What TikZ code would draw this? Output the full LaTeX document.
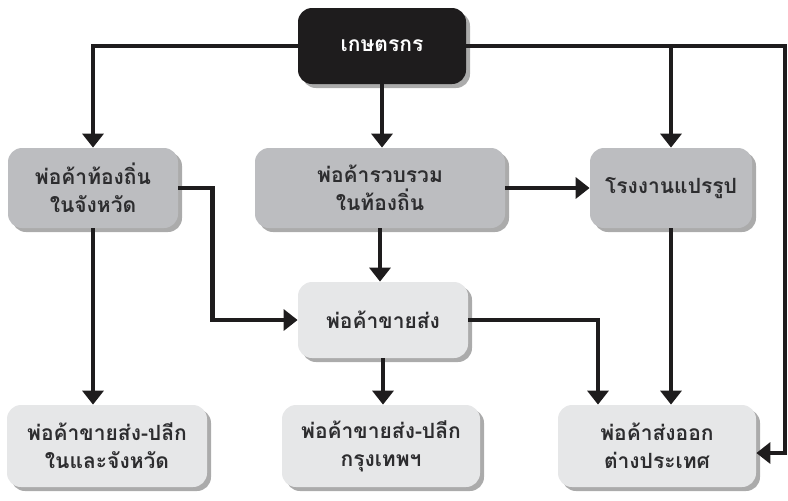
\documentclass[tikz,border=0pt]{standalone}
\usepackage{fontspec}
\newfontfamily\thaifont[Script=Thai]{Loma}
\usepackage{tikz}
\usetikzlibrary{
  arrows.meta,
  positioning,
  shadows,
  calc
}
\usepackage{xcolor}
\definecolor{inkdark}{RGB}{30,28,29}
\definecolor{boxgrey}{RGB}{188,189,192}
\definecolor{boxlight}{RGB}{230,231,232}
\definecolor{textdark}{RGB}{45,45,47}

\tikzset{
  chainbox/.style={
    rectangle, rounded corners=7pt, align=center,
    font=\thaifont\bfseries\fontsize{10.5}{14}\selectfont, text=textdark,
    drop shadow={shadow xshift=2pt, shadow yshift=-2pt, fill=black!55, opacity=.6}
  },
  flow/.style={line width=2.4pt, color=inkdark,
    -{Triangle[width=10.5pt,length=7pt]}}
}

\begin{document}
\begin{tikzpicture}[x=0.5pt, y=-0.5pt]
  \useasboundingbox (0,0) rectangle (788,500);

  % Top: farmer
  \node[chainbox, fill=inkdark, text=white,
    minimum width=84pt, minimum height=38pt] (farmer) at (382,46) {เกษตรกร};

  % Second row
  \node[chainbox, fill=boxgrey, minimum width=85pt, minimum height=40pt]
    (local) at (93,188) {พ่อค้าท้องถิ่น\\ในจังหวัด};
  \node[chainbox, fill=boxgrey, minimum width=125pt, minimum height=40pt]
    (collector) at (380,188) {พ่อค้ารวบรวม\\ในท้องถิ่น};
  \node[chainbox, fill=boxgrey, minimum width=81pt, minimum height=40pt]
    (factory) at (671,188) {โรงงานแปรรูป};

  % Wholesaler
  \node[chainbox, fill=boxlight, minimum width=85pt, minimum height=38pt]
    (wholesale) at (383,320) {พ่อค้าขายส่ง};

  % Bottom row
  \node[chainbox, fill=boxlight, minimum width=100pt, minimum height=41pt]
    (retailprov) at (107,446) {พ่อค้าขายส่ง-ปลีก\\ในและจังหวัด};
  \node[chainbox, fill=boxlight, minimum width=99pt, minimum height=41pt]
    (retailbkk) at (381,446) {พ่อค้าขายส่ง-ปลีก\\กรุงเทพฯ};
  \node[chainbox, fill=boxlight, minimum width=99pt, minimum height=41pt]
    (exporter) at (657,446) {พ่อค้าส่งออก\\ต่างประเทศ};

  \coordinate (rim) at (785,46);

  % Connectors
  \draw[flow] (farmer.west) -| (local.north);
  \draw[flow] (farmer.east) -| (factory.north);
  \draw[flow] (farmer.south) -- (farmer.south |- collector.north);
  \draw[flow] (farmer.east) -- (rim) |- ($(exporter.east)+(0,7)$);
  \draw[flow] (collector.east) -- (factory.west);
  \draw[flow] (collector.south) -- (collector.south |- wholesale.north);
  \draw[flow] (local.east) -- ++(34,0) |- (wholesale.west);
  \draw[flow] (local.south) -- (local.south |- retailprov.north);
  \draw[flow] (wholesale.south) -- (wholesale.south |- retailbkk.north);
  \draw[flow] (wholesale.east) -| ($(exporter.north)+(-59,0)$);
  \draw[flow] (factory.south) -- (factory.south |- exporter.north);
\end{tikzpicture}
\end{document}
